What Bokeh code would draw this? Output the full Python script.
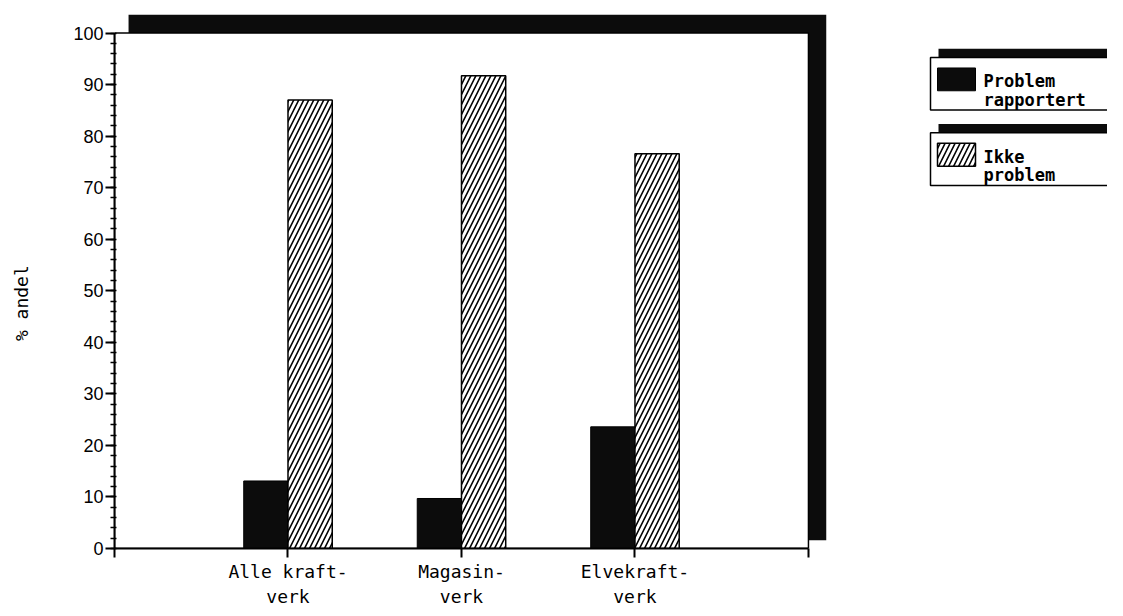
from bokeh.plotting import figure
from bokeh.layouts import row
from bokeh.models import Range1d, FixedTicker
from bokeh.core.properties import value
from bokeh.embed import file_html
from bokeh.resources import INLINE

# ---- data ----
categories = ["Alle kraft-\nverk", "Magasin-\nverk", "Elvekraft-\nverk"]
problem = [13.1, 9.7, 23.6]          # Problem rapportert
ikke_problem = [87.0, 91.7, 76.6]    # Ikke problem
series_names = [["Problem", "rapportert"], ["Ikke", "problem"]]
y_ticks = [0, 10, 20, 30, 40, 50, 60, 70, 80, 90, 100]
y_label = "% andel"

MONO = "DejaVu Sans Mono"
SANS = "Liberation Sans"

xpos = [i + 1 for i in range(len(categories))]
bw = 0.255
H = 608

p = figure(frame_width=712, frame_height=534,
           min_border_left=114, min_border_right=42, min_border_top=14,
           min_border_bottom=H - 14 - 534,
           x_range=Range1d(0, 4.104), y_range=Range1d(0, 103.59),
           output_backend="svg", toolbar_location=None)
p.xgrid.visible = False
p.ygrid.visible = False
p.outline_line_color = None
p.background_fill_color = "white"

# shadow + white plotting box
p.quad(left=[0.081], right=[4.104], bottom=[1.6], top=[103.59],
       fill_color="#0c0c0c", line_color=None)
p.quad(left=[0], right=[4], bottom=[0], top=[100],
       fill_color="white", line_color="black", line_width=1.5)

# bars
p.vbar(x=[x - bw / 2 for x in xpos], top=problem, width=bw, bottom=0,
       fill_color="#0c0c0c", line_color="black", line_width=1)
p.vbar(x=[x + bw / 2 for x in xpos], top=ikke_problem, width=bw, bottom=0,
       fill_color="white", line_color="black", line_width=1.5,
       hatch_pattern="/", hatch_color="black", hatch_scale=10, hatch_weight=1.6)

# y axis
ya = p.yaxis[0]
ya.ticker = FixedTicker(ticks=y_ticks, minor_ticks=list(range(0, 101, 2)))
ya.bounds = (0, 100)
ya.axis_line_width = 2
ya.major_tick_line_width = 2
ya.major_tick_out = 9
ya.major_tick_in = 0
ya.minor_tick_out = 4
ya.minor_tick_in = 2
ya.minor_tick_line_width = 1.5
ya.major_label_standoff = 2
ya.major_label_text_font = SANS
ya.major_label_text_font_size = "18px"
ya.major_label_text_color = "black"
ya.axis_label = y_label + "    "
ya.axis_label_text_font = MONO
ya.axis_label_text_font_size = "18px"
ya.axis_label_text_font_style = "normal"
ya.axis_label_text_color = "black"
ya.axis_label_standoff = 38

# x axis
xa = p.xaxis[0]
xa.ticker = FixedTicker(ticks=[0] + xpos + [4], minor_ticks=[])
xa.bounds = (0, 4)
xa.major_label_overrides = {0: "", 4: "", **{x: c for x, c in zip(xpos, categories)}}
xa.axis_line_width = 2
xa.major_tick_line_width = 2
xa.major_tick_out = 9
xa.major_tick_in = 0
xa.major_label_standoff = 3
xa.major_label_text_font = MONO
xa.major_label_text_font_size = "18px"
xa.major_label_text_color = "black"

# ---- legend figure (coordinates = page pixels) ----
lg = figure(width=239, height=H, x_range=Range1d(868, 1107), y_range=Range1d(H, 0),
            x_axis_type=None, y_axis_type=None, min_border=0,
            output_backend="svg", toolbar_location=None)
lg.grid.visible = False
lg.outline_line_color = None

box_tops = [49, 135]
for k, top in enumerate(box_tops):
    lg.quad(left=[938], right=[1115], top=[top - 10], bottom=[top],
            fill_color="#0c0c0c", line_color=None)
    lg.quad(left=[930], right=[1115], top=[top], bottom=[top + 60],
            fill_color="white", line_color="black", line_width=1.5)
    if k == 0:
        lg.quad(left=[937], right=[975], top=[top + 12], bottom=[top + 38],
                fill_color="#0c0c0c", line_color="black", line_width=1)
    else:
        lg.quad(left=[937], right=[975], top=[top + 12], bottom=[top + 38],
                fill_color="white", line_color="black", line_width=1.5,
                hatch_pattern="/", hatch_color="black", hatch_scale=10, hatch_weight=1.6)
    lg.text(x=[983, 983], y=[top + 27, top + 48], text=series_names[k],
            text_font=value(MONO), text_font_size="17px", text_font_style="bold",
            text_baseline="middle", text_align="left", text_color="black")

layout = row(p, lg)
open("out.html", "w").write(file_html(layout, INLINE))
